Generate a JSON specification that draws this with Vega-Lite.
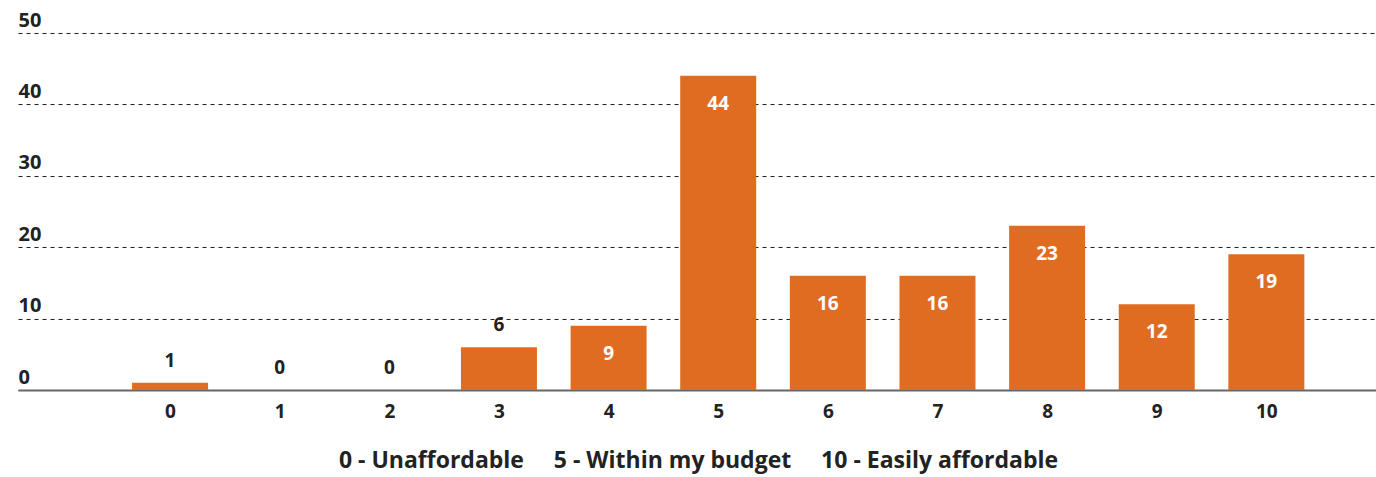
{
  "$schema": "https://vega.github.io/schema/vega-lite/v6.json",
  "autosize": "none",
  "width": 1358,
  "height": 357,
  "padding": {"left": 18, "top": 33, "right": 0, "bottom": 87},
  "background": "white",
  "config": {
    "view": {"stroke": null},
    "font": "Open Sans",
    "axis": {"labelFont": "Open Sans", "titleFont": "Open Sans"}
  },
  "data": {
    "values": [
      {"score": 0, "count": 1},
      {"score": 1, "count": 0},
      {"score": 2, "count": 0},
      {"score": 3, "count": 6},
      {"score": 4, "count": 9},
      {"score": 5, "count": 44},
      {"score": 6, "count": 16},
      {"score": 7, "count": 16},
      {"score": 8, "count": 23},
      {"score": 9, "count": 12},
      {"score": 10, "count": 19}
    ]
  },
  "encoding": {
    "x": {
      "field": "score",
      "type": "quantitative",
      "scale": {"domain": [-1.387, 11.0], "nice": false, "zero": false, "padding": 0},
      "axis": {
        "values": [0, 1, 2, 3, 4, 5, 6, 7, 8, 9, 10],
        "format": "d",
        "grid": false,
        "ticks": false,
        "labelFlush": false,
        "domainColor": "#666666",
        "domainWidth": 2,
        "labelFontSize": 19,
        "labelFontWeight": "bold",
        "labelColor": "#222222",
        "labelPadding": 12,
        "title": "0 - Unaffordable\u00a0\u00a0\u00a0\u00a0\u00a05 - Within my budget\u00a0\u00a0\u00a0\u00a0\u00a010 - Easily affordable",
        "titleFontSize": 23,
        "titleFontWeight": "bold",
        "titleColor": "#222222",
        "titlePadding": 28,
        "titleX": 680
      }
    },
    "y": {
      "field": "count",
      "type": "quantitative",
      "scale": {"domain": [0, 50], "nice": false, "padding": 0},
      "axis": {
        "values": [0, 10, 20, 30, 40, 50],
        "title": null,
        "domain": false,
        "ticks": false,
        "grid": true,
        "gridColor": "#222222",
        "gridDash": [4, 4],
        "gridWidth": 1,
        "labelAlign": "left",
        "labelBaseline": "alphabetic",
        "labelPadding": 0,
        "labelOffset": -7,
        "labelFontSize": 20,
        "labelFontWeight": "bold",
        "labelColor": "#222222"
      }
    }
  },
  "layer": [
    {"mark": {"type": "bar", "size": 76, "color": "#E06C22"}},
    {
      "transform": [{"filter": "datum.count >= 9"}],
      "mark": {"type": "text", "baseline": "middle", "dy": 28, "fontSize": 19, "fontWeight": "bold", "color": "white"},
      "encoding": {"text": {"field": "count", "type": "quantitative"}}
    },
    {
      "transform": [{"filter": "datum.count < 9"}],
      "mark": {"type": "text", "baseline": "middle", "dy": -22, "fontSize": 19, "fontWeight": "bold", "color": "#222222"},
      "encoding": {"text": {"field": "count", "type": "quantitative"}}
    }
  ]
}
